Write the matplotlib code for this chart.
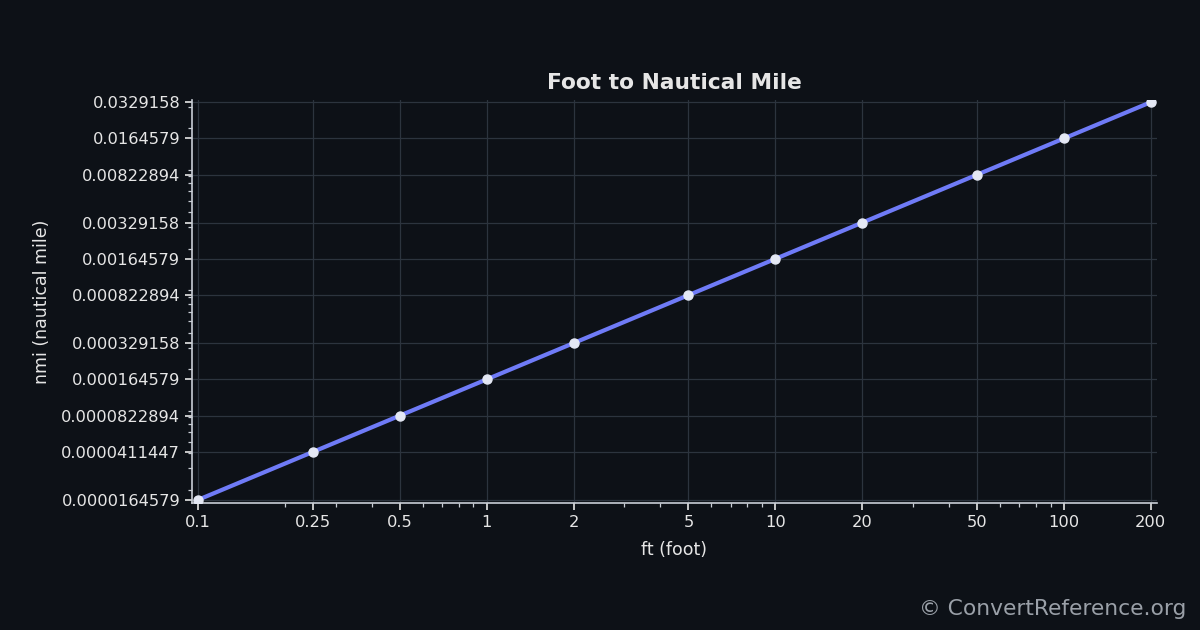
import numpy as np, matplotlib
matplotlib.use("Agg")
import matplotlib.pyplot as plt
from matplotlib.ticker import FixedLocator, FixedFormatter, NullFormatter

ft = [0.1, 0.25, 0.5, 1, 2, 5, 10, 20, 50, 100, 200]
nmi = [0.0000164579, 0.0000411447, 0.0000822894, 0.000164579, 0.000329158,
       0.000822894, 0.00164579, 0.00329158, 0.00822894, 0.0164579, 0.0329158]
x_labels = ['0.1', '0.25', '0.5', '1', '2', '5', '10', '20', '50', '100', '200']
y_labels = ['0.0000164579', '0.0000411447', '0.0000822894', '0.000164579', '0.000329158',
            '0.000822894', '0.00164579', '0.00329158', '0.00822894', '0.0164579', '0.0329158']

bg = '#0d1117'
fg = '#e6e6e6'
fig = plt.figure(figsize=(12, 6.3), dpi=100, facecolor=bg)
ax = fig.add_axes([0.16, 0.2016, 0.804, 0.6394], facecolor=bg)
ax.plot(ft, nmi, color='#6f7bf7', lw=3, marker='o', ms=6.5, mfc='#e4e8f4', mec='#e4e8f4', zorder=3)
ax.set_xscale('log'); ax.set_yscale('log')
ax.set_xlim(0.0953, 209.8)
ax.set_ylim(0.0000155, 0.0342)

ax.xaxis.set_major_locator(FixedLocator(ft))
ax.xaxis.set_major_formatter(FixedFormatter(x_labels))
ax.xaxis.set_minor_formatter(NullFormatter())
ax.yaxis.set_major_locator(FixedLocator(nmi))
ax.yaxis.set_major_formatter(FixedFormatter(y_labels))
ax.yaxis.set_minor_formatter(NullFormatter())

for s in ['top', 'right']:
    ax.spines[s].set_visible(False)
for s in ['left', 'bottom']:
    ax.spines[s].set_color('#c9ced6')
    ax.spines[s].set_linewidth(1.2)
ax.tick_params(which='major', colors=fg, labelsize=11.7, length=5, width=1.2)
ax.tick_params(which='minor', colors='#c9ced6', length=3, width=0.9)
ax.grid(True, which='major', color='#2c343e', lw=0.9)

ax.set_xlabel('ft (foot)', color=fg, fontsize=12.5, labelpad=8)
ax.set_ylabel('nmi (nautical mile)', color=fg, fontsize=12.5, labelpad=7)
ax.set_title('Foot to Nautical Mile', color=fg, fontsize=15.7, fontweight='bold', pad=8)
fig.text(0.989, 0.018, '© ConvertReference.org', ha='right', va='bottom', color='#9aa0a8', fontsize=15.7)
fig.savefig('out.png', dpi=100, facecolor=bg)
